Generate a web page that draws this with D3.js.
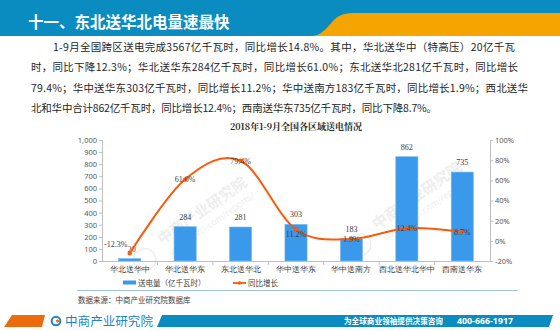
<!DOCTYPE html>
<html><head><meta charset="utf-8">
<script src="https://cdn.jsdelivr.net/npm/d3@7"></script>
<style>
html,body{margin:0;padding:0;background:#fff;}
svg{display:block;font-family:"Noto Sans CJK SC","Noto Sans",sans-serif;}
</style></head>
<body><svg id="c" width="560" height="331"></svg>
<script>
const categories = ["华北送华中","华北送华东","东北送华北","华中送华东","华中送南方","西北送华北华中","西南送华东"];
const volume = [20,284,281,303,183,862,735];
const growth = [-12.3,61.0,79.4,11.2,1.9,12.4,8.7];
const growthLabels = ["-12.3%","61.0%","79.4%","11.2%","1.9%","12.4%","8.7%"];
const leftTicks = [0,100,200,300,400,500,600,700,800,900,1000];
const rightTicks = [-20,0,20,40,60,80,100];
const pageTitle = "十一、东北送华北电量速最快";
const paragraph = [
  "1-9月全国跨区送电完成3567亿千瓦时，同比增长14.8%。其中，华北送华中（特高压）20亿千瓦",
  "时，同比下降12.3%；华北送华东284亿千瓦时，同比增长61.0%；东北送华北281亿千瓦时，同比增长",
  "79.4%；华中送华东303亿千瓦时，同比增长11.2%；华中送南方183亿千瓦时，同比增长1.9%；西北送华",
  "北和华中合计862亿千瓦时，同比增长12.4%；西南送华东735亿千瓦时，同比下降8.7%。"
];
const chartTitle = "2018年1-9月全国各区域送电情况";
const legendLabels = ["送电量（亿千瓦时）","同比增长"];
const sourceText = "数据来源：中商产业研究院数据库";
const footerBrand = "中商产业研究院";
const footerSlogan = "为全球商业领袖提供决策咨询";
const footerPhone = "400-666-1917";

const svg = d3.select("#c");
const BLUE = "#0b8cc0", ORANGE = "#f6a500", BAR = "#3a99ea", LINE = "#fb5a0a";

// header
svg.append("rect").attr("x",0).attr("y",0).attr("width",560).attr("height",36).attr("fill",BLUE);
svg.append("path").attr("fill",ORANGE)
  .attr("d","M312,36 C322,36 328,26 334,20 C340,14 346,13 356,13 L560,13 L560,36 Z");
svg.append("text").attr("x",28).attr("y",28).attr("fill","#fff")
  .attr("font-size",15.5).attr("font-weight","bold").text(pageTitle);

// paragraph
const pStarts = [53,31,31,31], pEnds = [515,518,528,437], pY = [47.3,67.8,88.3,108.8];
paragraph.forEach((t,i)=>{
  svg.append("text").attr("x",pStarts[i]).attr("y",pY[i]).attr("dy","0.35em")
    .attr("font-size",10.5).attr("fill","#262626")
    .attr("textLength",pEnds[i]-pStarts[i]).attr("lengthAdjust","spacing").text(t);
});

// chart scales
const x = d3.scaleBand().domain(categories).range([102,490]).padding(0);
const yL = d3.scaleLinear().domain([0,1000]).range([261,140]);
const yR = d3.scaleLinear().domain([-20,100]).range([261,140]);

// watermarks (faint)
function watermark(cx, cy){
  const g = svg.append("g").attr("transform",`translate(${cx},${cy}) rotate(-35)`)
    .attr("fill","#d6d6d6").attr("opacity",0.4);
  g.append("text").attr("text-anchor","middle").attr("font-size",15).attr("font-weight","bold").text(footerBrand);
  g.append("text").attr("text-anchor","middle").attr("y",14).attr("font-size",9).text("www.askci.com/reports/");
  g.append("circle").attr("cx",-75).attr("cy",2).attr("r",11).attr("fill","none").attr("stroke","#d6d6d6").attr("stroke-width",1.5);
}
watermark(205,215);
watermark(420,200);

// chart title
svg.append("text").attr("x",296).attr("y",127).attr("dy","0.35em").attr("text-anchor","middle")
  .attr("font-size",9).attr("font-weight","bold").attr("fill","#262626")
  .attr("font-family","'Noto Serif CJK SC','Liberation Serif','Noto Sans CJK SC',serif").text(chartTitle);

// bars
const bw = x.bandwidth()*0.4;
svg.append("g").selectAll("rect").data(volume).join("rect")
  .attr("x",(d,i)=>x(categories[i])+x.bandwidth()/2-bw/2)
  .attr("y",d=>yL(d)).attr("width",bw).attr("height",d=>yL(0)-yL(d))
  .attr("fill",BAR).attr("stroke","#7cbcf2").attr("stroke-width",0.6);

// axes
const axisColor = "#bfbfbf", tickText = "#595959";
const gl = svg.append("g").attr("transform","translate(102,0)")
  .call(d3.axisLeft(yL).tickValues(leftTicks).tickSize(3).tickPadding(2));
const gr = svg.append("g").attr("transform","translate(490,0)")
  .call(d3.axisRight(yR).tickValues(rightTicks).tickSize(3).tickPadding(2).tickFormat(d=>d+"%"));
[gl,gr].forEach(g=>{
  g.selectAll("path,line").attr("stroke",axisColor);
  g.selectAll("text").attr("fill",tickText).attr("font-size",7.5).attr("font-family","'Noto Sans','DejaVu Sans',sans-serif");
});
const gx = svg.append("g").attr("transform","translate(0,261)")
  .call(d3.axisBottom(x).tickSize(0).tickPadding(6).tickSizeOuter(0));
gx.select(".domain").attr("stroke",axisColor);
gx.selectAll("text").attr("fill","#404040").attr("font-size",7.5);
// category boundary ticks
svg.append("g").selectAll("line").data(categories.slice(1)).join("line")
  .attr("x1",d=>x(d)).attr("x2",d=>x(d)).attr("y1",261).attr("y2",265).attr("stroke",axisColor);

// bar labels
svg.append("g").selectAll("text").data(volume).join("text")
  .attr("x",(d,i)=>x(categories[i])+x.bandwidth()/2+(i===0?2:0)).attr("y",d=>yL(d)-7)
  .attr("text-anchor","middle").attr("font-size",8).attr("fill","#404040")
  .attr("font-family","'Liberation Serif',serif").text(d=>d);

// line
const pts = growth.map((g,i)=>[x(categories[i])+x.bandwidth()/2, yR(g)]);
svg.append("path").attr("d",d3.line().curve(d3.curveCardinal.tension(0))(pts))
  .attr("fill","none").attr("stroke",LINE).attr("stroke-width",2);
svg.append("g").selectAll("circle").data(pts).join("circle")
  .attr("cx",d=>d[0]).attr("cy",d=>d[1]).attr("r",2.2).attr("fill",LINE);
svg.append("g").selectAll("text").data(growthLabels).join("text")
  .attr("x",(d,i)=>pts[i][0]-(i===0?14:0)).attr("y",(d,i)=>pts[i][1]+(i===0?-9:(i===3?5:0)))
  .attr("dy","0.35em").attr("text-anchor","middle").attr("font-size",8).attr("fill","#404040")
  .attr("font-family","'Liberation Serif',serif").text(d=>d);

// legend
svg.append("rect").attr("x",123).attr("y",280.5).attr("width",13).attr("height",4).attr("fill",BAR);
svg.append("text").attr("x",138).attr("y",283).attr("dy","0.35em").attr("font-size",7.5).attr("fill","#404040").text(legendLabels[0]);
svg.append("line").attr("x1",233).attr("x2",246).attr("y1",283).attr("y2",283).attr("stroke",LINE).attr("stroke-width",1.8);
svg.append("circle").attr("cx",239.5).attr("cy",283).attr("r",1.8).attr("fill",LINE);
svg.append("text").attr("x",248).attr("y",283).attr("dy","0.35em").attr("font-size",7.5).attr("fill","#404040").text(legendLabels[1]);

// separator & source
svg.append("line").attr("x1",77).attr("x2",518).attr("y1",290.5).attr("y2",290.5).attr("stroke","#9dc3e6").attr("stroke-width",1);
svg.append("text").attr("x",78).attr("y",300).attr("dy","0.35em").attr("font-size",7.5).attr("fill","#404040").text(sourceText);

// footer
svg.append("path").attr("fill","#ea6c0c").attr("d","M12,315 L45,315 L42,327 L4,327 Z");
svg.append("path").attr("fill",BLUE).attr("d","M162,315 L553,315 L549,327 L157,327 Z");
const lg = svg.append("g");
lg.append("circle").attr("cx",56).attr("cy",321).attr("r",4.3).attr("fill","none").attr("stroke","#1a86c8").attr("stroke-width",2);
lg.append("circle").attr("cx",57.5).attr("cy",321).attr("r",1.6).attr("fill","#ea6c0c");
lg.append("text").attr("x",65).attr("y",321).attr("dy","0.36em").attr("font-size",12.5)
  .attr("fill","#1a86c8").attr("textLength",88).attr("lengthAdjust","spacingAndGlyphs").text(footerBrand);
svg.append("text").attr("x",344).attr("y",321).attr("dy","0.36em").attr("font-size",8.5).attr("font-weight","bold")
  .attr("fill","#fff").attr("textLength",99).attr("lengthAdjust","spacingAndGlyphs").text(footerSlogan);
svg.append("text").attr("x",457).attr("y",321).attr("dy","0.36em").attr("font-size",9).attr("font-weight","bold")
  .attr("fill","#fff").attr("font-family","'Noto Sans','DejaVu Sans',sans-serif").attr("textLength",56).attr("lengthAdjust","spacingAndGlyphs").text(footerPhone);
</script></body></html>
